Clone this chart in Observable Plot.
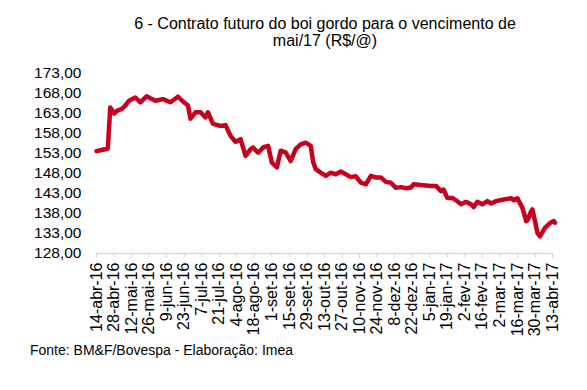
<!DOCTYPE html>
<html><head><meta charset="utf-8">
<script src="https://cdn.jsdelivr.net/npm/d3@7"></script>
<script src="https://cdn.jsdelivr.net/npm/@observablehq/plot@0.6"></script>
<style>
body{margin:0;background:#fff;}
#wrap{position:relative;width:587px;height:390px;font-family:"Liberation Sans",Arial,sans-serif;color:#000;}
#title{position:absolute;left:96px;width:458px;top:15px;text-align:center;font-size:16px;line-height:17px;}
#chart{position:absolute;left:0;top:55px;}
#foot{position:absolute;left:30px;top:342px;font-size:14px;}
</style></head><body>
<div id="wrap">
<div id="title">6 - Contrato futuro do boi gordo para o vencimento de<br>mai/17 (R$/@)</div>
<div id="chart"></div>
<div id="foot">Fonte: BM&amp;F/Bovespa - Elaboração: Imea</div>
</div>
<script>
const dates = ["2016-04-14","2016-04-17","2016-04-23","2016-04-25","2016-04-28","2016-05-01","2016-05-04","2016-05-07","2016-05-10","2016-05-15","2016-05-19","2016-05-24","2016-05-27","2016-05-31","2016-06-06","2016-06-12","2016-06-18","2016-06-22","2016-06-26","2016-06-28","2016-07-02","2016-07-06","2016-07-10","2016-07-12","2016-07-16","2016-07-22","2016-07-26","2016-07-30","2016-08-03","2016-08-07","2016-08-11","2016-08-15","2016-08-17","2016-08-21","2016-08-25","2016-08-29","2016-09-01","2016-09-05","2016-09-08","2016-09-12","2016-09-16","2016-09-20","2016-09-24","2016-09-28","2016-10-02","2016-10-04","2016-10-06","2016-10-10","2016-10-14","2016-10-18","2016-10-22","2016-10-26","2016-10-30","2016-11-03","2016-11-07","2016-11-11","2016-11-15","2016-11-19","2016-11-23","2016-11-27","2016-12-01","2016-12-05","2016-12-09","2016-12-13","2016-12-17","2016-12-21","2016-12-23","2016-12-29","2017-01-06","2017-01-10","2017-01-14","2017-01-16","2017-01-19","2017-01-23","2017-01-26","2017-01-30","2017-02-03","2017-02-07","2017-02-09","2017-02-12","2017-02-16","2017-02-20","2017-02-23","2017-02-27","2017-03-05","2017-03-11","2017-03-13","2017-03-16","2017-03-20","2017-03-23","2017-03-24","2017-03-27","2017-03-28","2017-03-30","2017-04-01","2017-04-03","2017-04-07","2017-04-11","2017-04-14","2017-04-15"];
const prices = [153.6,153.8,154.2,164.5,163.0,163.8,164.1,165.0,166.2,167.0,165.8,167.3,166.8,166.2,166.6,165.8,167.2,166.0,165.0,161.7,163.3,163.3,162.0,163.3,160.4,159.9,160.1,157.4,155.9,156.6,152.4,154.1,154.5,153.2,154.5,154.9,150.7,149.5,153.7,153.3,151.1,154.1,155.3,155.7,154.9,150.8,149.1,148.2,147.4,148.2,147.8,148.5,147.8,147.1,147.3,145.7,145.3,147.4,147.0,147.0,145.9,145.7,144.4,144.6,144.3,144.5,145.3,145.1,144.9,144.9,143.6,144.0,141.9,141.9,141.3,140.3,140.9,140.3,139.6,140.9,140.3,141.1,140.5,141.1,141.5,141.8,141.3,141.8,139.4,136.1,136.3,138.6,139.0,136.1,133.1,132.3,134.4,135.6,136.1,135.7];
const yTicks = [128,133,138,143,148,153,158,163,168,173];
const xTickLabels = ["14-abr-16","28-abr-16","12-mai-16","26-mai-16","9-jun-16","23-jun-16","7-jul-16","21-jul-16","4-ago-16","18-ago-16","1-set-16","15-set-16","29-set-16","13-out-16","27-out-16","10-nov-16","24-nov-16","8-dez-16","22-dez-16","5-jan-17","19-jan-17","2-fev-17","16-fev-17","2-mar-17","16-mar-17","30-mar-17","13-abr-17"];
const months = ["jan","fev","mar","abr","mai","jun","jul","ago","set","out","nov","dez"];

function parseLabel(s){const [d,m,y]=s.split("-");return new Date(Date.UTC(2000 + +y, months.indexOf(m), +d));}
const xTicks = xTickLabels.map(parseLabel);
const data = dates.map((d,i)=>({date:new Date(d+"T00:00:00Z"), price:prices[i]}));
const fmt = d => xTickLabels[xTicks.findIndex(t => +t === +d)];

const chart = Plot.plot({
  width:587, height:290, marginLeft:96, marginRight:35, marginTop:18, marginBottom:92,
  style:{fontFamily:"'Liberation Sans', Arial, sans-serif", fontSize:"16px", color:"#000", background:"#fff"},
  x:{type:"utc", domain:[xTicks[0], xTicks[xTicks.length-1]]},
  y:{domain:[128,173]},
  marks:[
    Plot.ruleY([128],{stroke:"#d9d9d9", strokeWidth:1.5}),
    Plot.axisX({ticks:xTicks, tickFormat:fmt, tickRotate:-90, tickSize:5, tickPadding:4, stroke:"#d9d9d9", fill:"#000", label:null, fontSize:16}),
    Plot.axisY({ticks:yTicks, tickFormat:d=>d.toFixed(2).replace(".",","), tickSize:0, tickPadding:15, label:null, fontSize:15.5, fill:"#000"}),
    Plot.lineY(data,{x:"date", y:"price", stroke:"#c8001e", strokeWidth:4.5, strokeLinejoin:"round", strokeLinecap:"round"})
  ]
});
document.getElementById("chart").appendChild(chart);
</script>
</body></html>
